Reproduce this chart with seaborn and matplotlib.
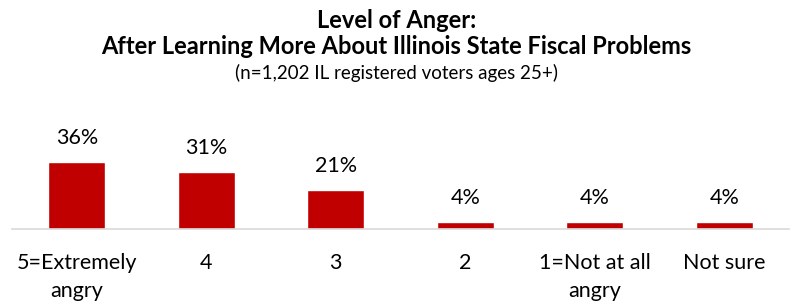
import matplotlib.pyplot as plt
import seaborn as sns
import pandas

categories = ["5=Extremely\nangry", "4", "3", "2", "1=Not at all\nangry", "Not sure"]
values = [36, 31, 21, 4, 4, 4]
bar_labels = ["36%", "31%", "21%", "4%", "4%", "4%"]


def plot(dest="out.png"):
	sns.set_theme(style="white")
	plt.rcParams["font.family"] = ["Lato", "DejaVu Sans"]
	plt.rcParams["text.color"] = "black"

	data = pandas.DataFrame({"category": categories, "pct": values})

	fig = plt.figure(figsize=(7.93, 3.04), dpi=100)
	ax = fig.add_axes([12 / 793, 75 / 304, 777 / 793, 129 / 304])

	sns.barplot(x="category", y="pct", data=data, ax=ax,
				color="#C00000", saturation=1, width=0.44)

	ax.bar_label(ax.containers[0], labels=bar_labels, padding=10,
				 fontsize=15.5, color="black")

	ax.set_xlim(-0.5, 5.5)
	ax.set_ylim(0, 69.7)
	ax.set_xlabel("")
	ax.set_ylabel("")
	ax.set_yticks([])
	for side in ["left", "right", "top"]:
		ax.spines[side].set_visible(False)
	ax.spines["bottom"].set_color("#D9D9D9")
	ax.spines["bottom"].set_linewidth(1.2)
	ax.tick_params(axis="x", length=0, pad=17, labelsize=15.5, colors="black")
	for t in ax.get_xticklabels():
		t.set_linespacing(1.5)
		t.set_verticalalignment("top")

	fig.text(0.5, 1 - 20 / 304, "Level of Anger:", ha="center", va="center",
			 fontsize=17, fontweight="bold", color="black")
	fig.text(0.5, 1 - 47 / 304,
			 "After Learning More About Illinois State Fiscal Problems",
			 ha="center", va="center", fontsize=17, fontweight="bold",
			 color="black")
	fig.text(0.5, 1 - 73 / 304, "(n=1,202 IL registered voters ages 25+)",
			 ha="center", va="center", fontsize=13.5, color="black")

	plt.savefig(dest, dpi=100)


if __name__ == "__main__":
	plot()
